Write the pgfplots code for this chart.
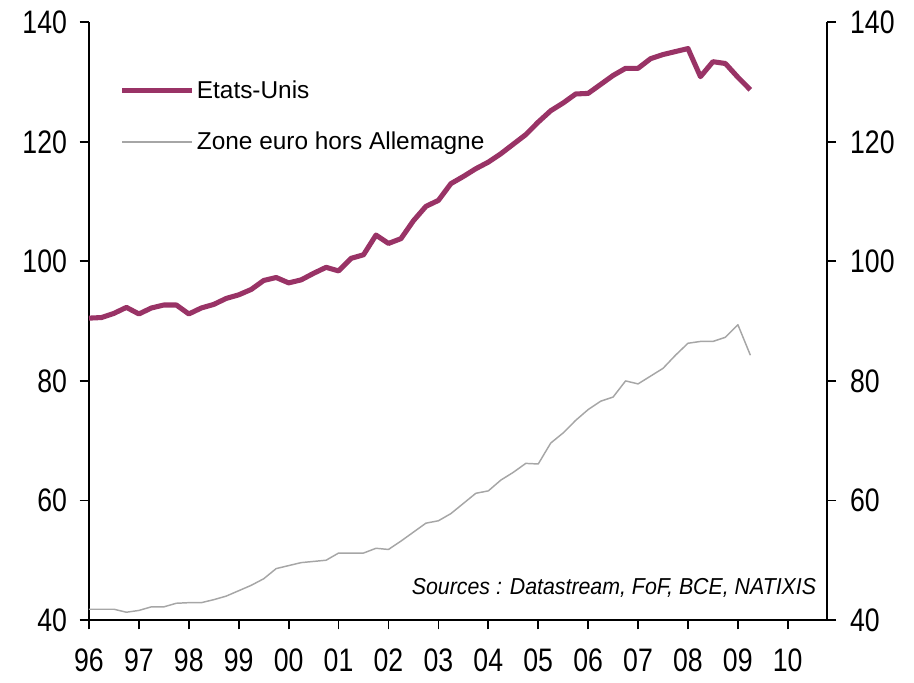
\documentclass[border=0pt]{standalone}
\usepackage{pgfplots}
\pgfplotsset{compat=1.18}
\usepackage{fontspec}
\setmainfont{Liberation Sans}
\definecolor{usc}{HTML}{993366}
\definecolor{euc}{HTML}{A6A6A6}
\newcommand{\vs}[1]{\scalebox{1}[1.22]{#1}}
\pgfplotstableread{
x us eu
1996.00 90.5 41.8
1996.25 90.6 41.8
1996.50 91.3 41.8
1996.75 92.3 41.3
1997.00 91.2 41.6
1997.25 92.2 42.2
1997.50 92.7 42.2
1997.75 92.7 42.8
1998.00 91.2 42.9
1998.25 92.2 42.9
1998.50 92.8 43.4
1998.75 93.8 44.0
1999.00 94.4 44.9
1999.25 95.3 45.8
1999.50 96.8 46.9
1999.75 97.3 48.6
2000.00 96.4 49.1
2000.25 96.9 49.6
2000.50 98.0 49.8
2000.75 99.0 50.0
2001.00 98.4 51.2
2001.25 100.5 51.2
2001.50 101.1 51.2
2001.75 104.4 52.0
2002.00 103.0 51.8
2002.25 103.8 53.2
2002.50 106.8 54.7
2002.75 109.2 56.2
2003.00 110.2 56.6
2003.25 113.0 57.8
2003.50 114.2 59.5
2003.75 115.5 61.2
2004.00 116.6 61.6
2004.25 118.0 63.4
2004.50 119.6 64.7
2004.75 121.2 66.2
2005.00 123.3 66.1
2005.25 125.2 69.6
2005.50 126.5 71.3
2005.75 128.0 73.4
2006.00 128.1 75.2
2006.25 129.6 76.6
2006.50 131.1 77.3
2006.75 132.3 80.0
2007.00 132.3 79.5
2007.25 133.9 80.8
2007.50 134.6 82.1
2007.75 135.1 84.3
2008.00 135.6 86.3
2008.25 130.9 86.6
2008.50 133.4 86.6
2008.75 133.1 87.3
2009.00 130.8 89.4
2009.25 128.7 84.3
}\data
\begin{document}
\begin{tikzpicture}
\pgfplotsset{
  common/.style={
    scale only axis, width=553.3pt, height=448.3pt,
    xmin=1996, xmax=2010.78, ymin=40, ymax=140,
    ytick={40,60,...,140},
    yticklabel={\vs{\pgfmathprintnumber{\tick}}},
    tick align=outside, major tick length=7pt,
    axis line style={line width=1.3pt}, tick style={line width=1.3pt, black},
    tick label style={font=\fontsize{20}{24}\selectfont},
    /pgf/number format/assume math mode=true,
  }
}
\begin{axis}[common,
  axis x line*=bottom, axis y line*=left,
  xtick={1996,...,2010},
  xticklabels={\vs{96},\vs{97},\vs{98},\vs{99},\vs{00},\vs{01},\vs{02},\vs{03},\vs{04},\vs{05},\vs{06},\vs{07},\vs{08},\vs{09},\vs{10}},
  xticklabel style={yshift=-11pt},
  yticklabel style={xshift=-6pt},
  clip=false,
  legend style={at={(rel axis cs:0.036,0.912)}, anchor=north west, draw=none, fill=none,
    font=\fontsize{18.3}{22}\selectfont, row sep=20pt, cells={anchor=west}},
  legend cell align=left,
  legend image code/.code={\draw[#1] (0pt,0pt) -- (52pt,0pt);},
]
\addplot[usc, line width=3.8pt, line join=round] table[x=x,y=us] {\data};
\addlegendentry{Etats-Unis}
\addplot[euc, line width=1.1pt, line join=round] table[x=x,y=eu] {\data};
\addlegendentry{Zone euro hors Allemagne}
\node[anchor=east, font=\fontsize{16}{19}\selectfont\itshape] at (rel axis cs:0.992,0.054) {\scalebox{1}[1.08]{Sources : Datastream, FoF, BCE, NATIXIS}};
\end{axis}
\begin{axis}[common,
  axis x line=none, axis y line*=right,
  yticklabel style={xshift=7pt},
]
\end{axis}
\path (-66.75pt,-46.5pt) rectangle (618.75pt,465pt);
\end{tikzpicture}
\end{document}
